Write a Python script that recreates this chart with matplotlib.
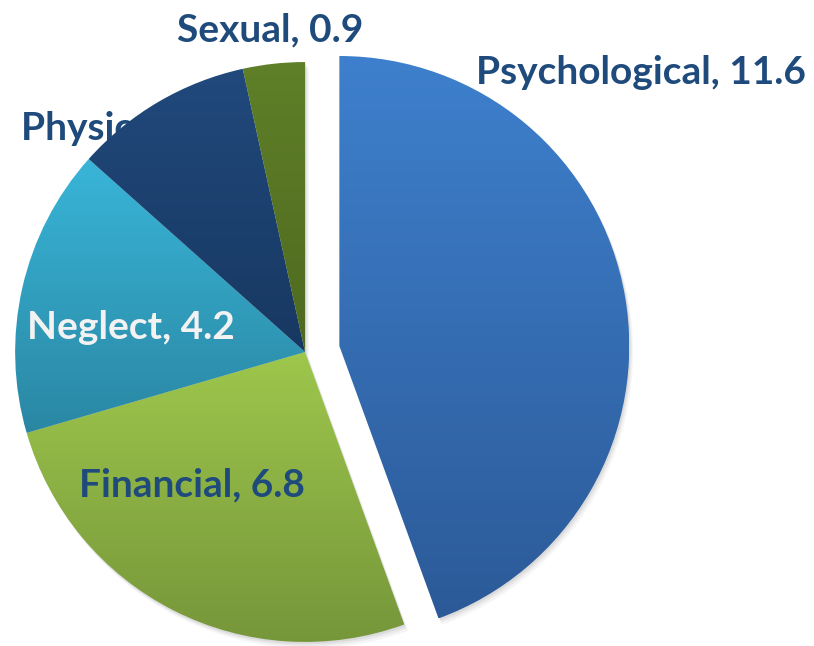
import numpy as np
import matplotlib
matplotlib.use("Agg")
import matplotlib.pyplot as plt
from matplotlib.colors import LinearSegmentedColormap
from matplotlib.patches import PathPatch
from matplotlib.transforms import Affine2D

# data (prevalence, %)
labels = ["Psychological", "Financial", "Neglect", "Physical", "Sexual"]
values = [11.6, 6.8, 4.2, 2.6, 0.9]
explode = [0.12, 0, 0, 0, 0]

# gradient colours per slice (top, bottom)
top_cols = ["#3e80cd", "#9ec74c", "#39b5d8", "#21497c", "#5f7f28"]
bot_cols = ["#2c5a98", "#76963a", "#2a87a3", "#173861", "#4f6a20"]

navy = "#1f4a7c"
txt_cols = [navy, navy, "#f2f2f2", navy, navy]
# label positions in data units (pie radius = 1)
lab_xy = [(1.16, 0.965), (-0.39, -0.46), (-0.6, 0.085), (-0.98, 0.77), (-0.12, 1.11)]
lab_ha = ["center", "center", "center", "left", "center"]

plt.rcParams['font.family'] = ['Lato', 'DejaVu Sans']

fig = plt.figure(figsize=(8.14, 6.46), dpi=100)
ax = fig.add_axes([0, 0, 1, 1])
ax.axis('off')

# labels first so the pie can cover the "Physical" one like in the original
for i, (lab, v) in enumerate(zip(labels, values)):
    ax.text(lab_xy[i][0], lab_xy[i][1], f"{lab}, {v}", color=txt_cols[i],
            ha=lab_ha[i], va="center", fontsize=28, fontweight="bold",
            zorder=1 if lab == "Physical" else 5)

wedges, _ = ax.pie(values, explode=explode, startangle=90, counterclock=False,
                   radius=1, center=(0, 0), frame=True,
                   wedgeprops=dict(linewidth=0, alpha=0))

grad = np.linspace(1, 0, 256).reshape(-1, 1)
for w, c0, c1 in zip(wedges, top_cols, bot_cols):
    path = w.get_path()
    # soft shadow
    for k, a in [(0.022, 0.04), (0.014, 0.05), (0.007, 0.06)]:
        sh = PathPatch(path, fc="#000000", alpha=a, lw=0, zorder=2,
                       transform=Affine2D().translate(k * 0.6, -k) + ax.transData)
        ax.add_patch(sh)
    ext = path.get_extents()
    cmap = LinearSegmentedColormap.from_list("g", [c1, c0])
    im = ax.imshow(grad, cmap=cmap, extent=[ext.x0, ext.x1, ext.y0, ext.y1],
                   aspect='auto', origin='upper', zorder=3, interpolation='bilinear')
    clip = PathPatch(path, transform=ax.transData)
    im.set_clip_path(clip)

ax.set_xlim(-1.052, 1.755)
ax.set_ylim(-1.014, 1.214)
ax.set_aspect('equal')
fig.savefig("out.png", dpi=100)
